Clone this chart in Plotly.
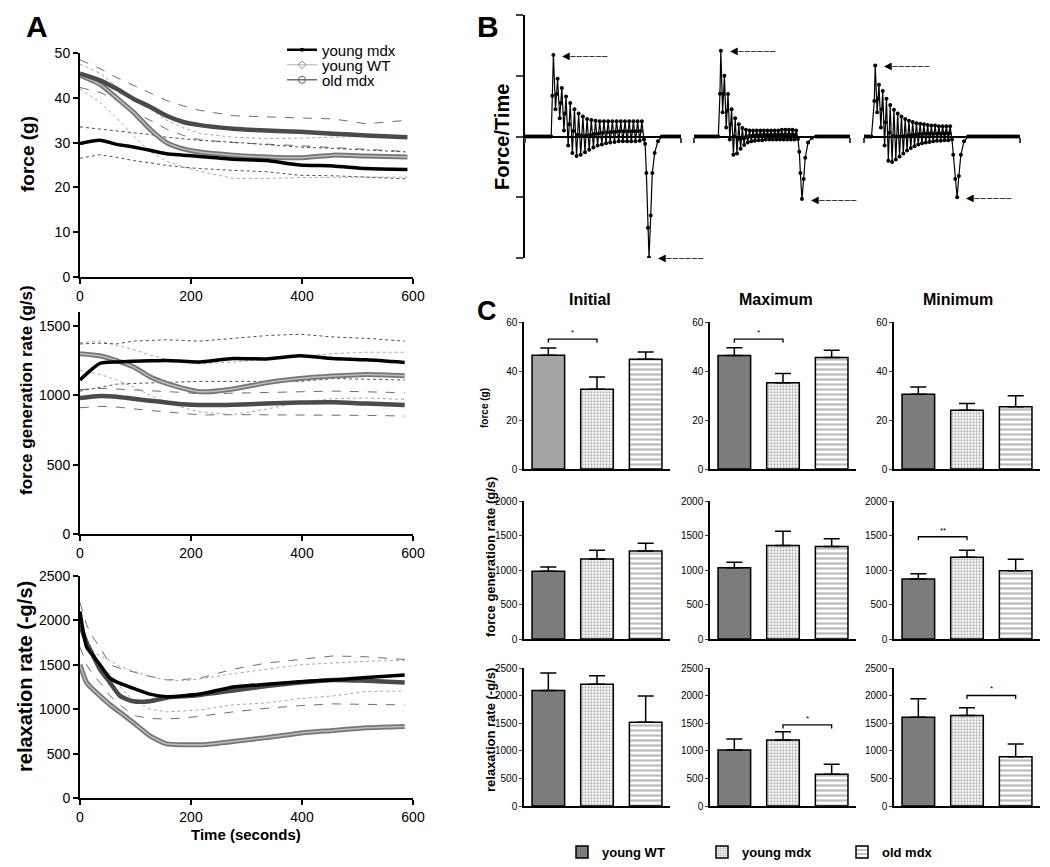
import numpy as np
import plotly.graph_objects as go

W, H = 1050, 867          # reference picture size
OX, OY = 8, 8             # page body margin of the browser
FW, FH = W - OX, H - OY   # figure size so that the picture fills the window
FONT = "Liberation Sans, Arial, sans-serif"

# ---------------- Panel A data (time courses) ----------------
groups = ["young mdx", "young WT", "old mdx"]

tA1 = [0, 36, 66, 96, 126, 156, 186, 216, 276, 336, 396, 456, 516, 590]
force_wt = [45.4, 43.9, 42.0, 39.8, 38.0, 36.0, 34.6, 33.9, 33.1, 32.7, 32.4, 32.0, 31.6, 31.2]
force_old = [45.0, 43.0, 40.0, 36.8, 33.0, 30.0, 28.6, 27.9, 27.2, 26.8, 26.6, 27.2, 27.0, 26.8]
force_ymdx = [29.8, 30.5, 29.6, 29.0, 28.3, 27.5, 27.2, 26.9, 26.3, 26.0, 25.0, 24.8, 24.2, 24.0]
force_wt_hi = [48.5, 46.5, 44.5, 42.8, 41.0, 39.4, 38.2, 37.2, 36.0, 35.7, 35.5, 35.3, 34.2, 35.0]
force_wt_lo = [42.3, 41.2, 39.5, 36.8, 35.0, 33.0, 31.6, 30.6, 30.0, 29.7, 29.3, 28.9, 28.5, 28.0]
force_old_hi = [47.5, 45.5, 42.5, 40.0, 37.5, 35.0, 33.3, 32.0, 31.2, 30.9, 31.0, 31.2, 31.5, 31.6]
force_old_lo = [42.0, 39.0, 35.5, 31.5, 28.0, 25.8, 24.6, 23.6, 22.0, 22.0, 22.2, 22.3, 22.3, 22.3]
force_ymdx_hi = [33.5, 33.0, 32.7, 32.2, 31.8, 31.2, 30.8, 30.5, 30.1, 29.6, 29.0, 28.7, 28.3, 27.9]
force_ymdx_lo = [26.5, 27.3, 26.7, 26.0, 25.5, 24.9, 24.5, 24.2, 23.8, 23.5, 22.7, 22.6, 22.3, 21.9]

tA2 = [0, 36, 66, 96, 126, 156, 186, 216, 276, 336, 396, 456, 516, 585]
fgr_ymdx = [1110, 1229, 1240, 1245, 1248, 1250, 1245, 1240, 1265, 1262, 1284, 1265, 1255, 1236]
fgr_old = [1300, 1285, 1250, 1205, 1133, 1085, 1050, 1025, 1045, 1090, 1120, 1138, 1150, 1140]
fgr_wt = [980, 995, 990, 975, 961, 948, 935, 930, 932, 940, 948, 950, 940, 930]
fgr_ymdx_hi = [1370, 1375, 1370, 1390, 1395, 1400, 1395, 1390, 1410, 1430, 1440, 1420, 1410, 1390]
fgr_ymdx_lo = [1030, 1060, 1080, 1085, 1090, 1090, 1095, 1100, 1100, 1100, 1100, 1120, 1115, 1110]
fgr_old_hi = [1380, 1390, 1360, 1330, 1290, 1260, 1240, 1225, 1240, 1260, 1285, 1300, 1310, 1310]
fgr_old_lo = [1180, 1150, 1110, 1060, 1000, 950, 910, 880, 860, 900, 950, 975, 980, 970]
fgr_wt_hi = [1040, 1050, 1045, 1040, 1035, 1030, 1020, 1010, 1015, 1020, 1030, 1030, 1025, 1018]
fgr_wt_lo = [910, 920, 915, 900, 890, 880, 870, 858, 860, 860, 860, 860, 855, 850]

tA3 = [0, 12, 24, 36, 54, 72, 96, 126, 156, 186, 216, 246, 276, 336, 396, 456, 516, 585]
rel_ymdx = [2100, 1700, 1600, 1500, 1350, 1290, 1235, 1170, 1140, 1150, 1170, 1210, 1250, 1280, 1310, 1330, 1358, 1385]
rel_wt = [1950, 1750, 1600, 1450, 1300, 1150, 1089, 1090, 1130, 1145, 1160, 1185, 1210, 1260, 1300, 1330, 1320, 1302]
rel_old = [1500, 1300, 1220, 1150, 1050, 965, 850, 700, 610, 600, 600, 615, 636, 680, 730, 760, 790, 805]
rel_wt_hi = [2200, 1950, 1800, 1700, 1500, 1460, 1420, 1370, 1330, 1335, 1350, 1400, 1450, 1520, 1560, 1600, 1590, 1560]
rel_wt_lo = [1700, 1500, 1380, 1300, 1150, 1050, 930, 895, 890, 900, 920, 945, 970, 1010, 1040, 1060, 1055, 1048]
rel_ymdx_hi = [2050, 1800, 1650, 1600, 1550, 1480, 1430, 1370, 1330, 1320, 1340, 1370, 1400, 1450, 1500, 1520, 1540, 1550]
rel_ymdx_lo = [1900, 1700, 1550, 1450, 1400, 1250, 1100, 1000, 970, 980, 990, 1020, 1050, 1070, 1120, 1150, 1200, 1205]

# ---------------- Panel B data (force derivative traces) ----------------
B_onset = [182, 172, 72]          # ms, first spike
B_period = [27, 23, 24]           # ms between stimuli
B_peaks = [
    [1.34, 0.95, 0.80, 0.66, 0.55, 0.45, 0.38, 0.33, 0.29, 0.27, 0.26, 0.25, 0.25, 0.25, 0.25, 0.25, 0.25, 0.25, 0.25, 0.25, 0.25, 0.25],
    [1.41, 1.00, 0.70, 0.45, 0.30, 0.20, 0.14, 0.11, 0.10, 0.10, 0.10, 0.10, 0.10, 0.10, 0.10, 0.10, 0.10, 0.11, 0.11, 0.11, 0.11, 0.10],
    [1.17, 0.85, 0.75, 0.62, 0.52, 0.44, 0.38, 0.33, 0.29, 0.26, 0.24, 0.22, 0.21, 0.20, 0.19, 0.18, 0.18, 0.17, 0.17, 0.17, 0.17],
]
B_troughs = [
    [0.45, 0.30, 0.10, -0.15, -0.27, -0.32, -0.30, -0.26, -0.22, -0.18, -0.15, -0.13, -0.11, -0.10, -0.09, -0.08, -0.08, -0.08, -0.08, -0.08, -0.07, -0.05],
    [0.40, 0.15, -0.05, -0.30, -0.28, -0.20, -0.14, -0.10, -0.08, -0.07, -0.06, -0.06, -0.05, -0.05, -0.05, -0.05, -0.05, -0.05, -0.05, -0.05, -0.05, -0.04],
    [0.40, 0.15, -0.15, -0.40, -0.42, -0.38, -0.33, -0.28, -0.23, -0.19, -0.16, -0.13, -0.11, -0.10, -0.09, -0.08, -0.07, -0.07, -0.06, -0.06, -0.05],
]
B_relax_t = [
    [770, 778, 788, 795, 806, 816, 831, 852, 877],
    [675, 682, 692, 703, 713, 731, 756, 782],
    [572, 585, 597, 608, 621, 641, 667],
]
B_relax_v = [
    [-0.12, -0.60, -1.50, -1.99, -1.30, -0.60, -0.27, -0.08, 0.0],
    [-0.25, -0.60, -1.03, -0.70, -0.35, -0.10, -0.02, 0.0],
    [-0.30, -0.70, -1.00, -0.65, -0.30, -0.08, 0.0],
]

# ---------------- Panel C data (bar charts) ----------------
bar_groups = ["young WT", "young mdx", "old mdx"]
col_titles = ["Initial", "Maximum", "Minimum"]
force_mean = [[46.4, 32.6, 44.8], [46.3, 35.2, 45.5], [30.5, 24.0, 25.4]]
force_sem = [[3.0, 5.0, 3.0], [3.2, 3.8, 3.0], [3.0, 2.7, 4.5]]
fgr_mean = [[981, 1159, 1275], [1034, 1356, 1341], [871, 1186, 988]]
fgr_sem = [[64, 126, 111], [78, 205, 113], [73, 102, 169]]
rel_mean = [[2091, 2207, 1518], [1013, 1195, 576], [1608, 1638, 892]]
rel_sem = [[317, 153, 476], [201, 152, 182], [334, 140, 231]]
# significance brackets: (row, col, bar_i, bar_j, level, label)
sig = [(0, 0, 0, 1, 53, "*"), (0, 1, 0, 1, 53, "*"), (1, 2, 0, 1, 1482, "**"),
       (2, 1, 1, 2, 1468, "*"), (2, 2, 1, 2, 2002, "*")]

# ---------------- layout helpers (pixel positions of the reference -> paper) ----------------
def px(x):
    return (x - OX) / FW

def py(y):
    return 1 - (y - OY) / FH

def xd(l, r):
    return [px(l), px(r)]

def yd(t, b):
    return [py(b), py(t)]

layout_axes = {}

def add_axes(n, xdom, ydom, xopts, yopts):
    s = "" if n == 1 else str(n)
    xo = dict(domain=xdom, anchor="y" + s, automargin=False)
    xo.update(xopts)
    yo = dict(domain=ydom, anchor="x" + s, automargin=False)
    yo.update(yopts)
    layout_axes["xaxis" + s] = xo
    layout_axes["yaxis" + s] = yo
    return ("x" + s, "y" + s)

fig = go.Figure()

# ---------------- Panel A ----------------
a_axis = dict(showline=True, linecolor="black", linewidth=2, ticks="outside", ticklen=5,
              tickwidth=2, tickcolor="black", showgrid=False, zeroline=False,
              tickfont=dict(family=FONT, size=14, color="black"))
ax_x = dict(a_axis, range=[0, 600], tickvals=[0, 200, 400, 600])
A_specs = [
    (1, (53, 277), [0, 50], [0, 10, 20, 30, 40, 50]),
    (2, (312, 534), [0, 1600], [0, 500, 1000, 1500]),
    (3, (576, 798), [0, 2500], [0, 500, 1000, 1500, 2000, 2500]),
]
A_refs = []
for n, (top, bot), yr, tv in A_specs:
    A_refs.append(add_axes(n, xd(80, 413), yd(top, bot), ax_x, dict(a_axis, range=yr, tickvals=tv)))

def sem_line(ref, t, y, color, dash, width=1):
    fig.add_trace(go.Scatter(x=t, y=y, xaxis=ref[0], yaxis=ref[1], mode="lines",
                             line=dict(color=color, dash=dash, width=width), showlegend=False,
                             hoverinfo="skip"))

def mean_line(ref, t, y, color, width):
    fig.add_trace(go.Scatter(x=t, y=y, xaxis=ref[0], yaxis=ref[1], mode="lines",
                             line=dict(color=color, width=width, shape="spline", smoothing=0.6),
                             showlegend=False))

panelA = [
    (tA1, force_wt, force_old, force_ymdx, force_wt_hi, force_wt_lo, force_old_hi, force_old_lo, force_ymdx_hi, force_ymdx_lo),
    (tA2, fgr_wt, fgr_old, fgr_ymdx, fgr_wt_hi, fgr_wt_lo, fgr_old_hi, fgr_old_lo, fgr_ymdx_hi, fgr_ymdx_lo),
    (tA3, rel_wt, rel_old, rel_ymdx, rel_wt_hi, rel_wt_lo, rel_ymdx_hi, rel_ymdx_lo, None, None),
]
for ref, d in zip(A_refs, panelA):
    t = d[0]
    sem_line(ref, t, d[4], "#6e6e6e", "dash")
    sem_line(ref, t, d[5], "#6e6e6e", "dash")
    sem_line(ref, t, d[6], "#a8a8a8", "dot")
    sem_line(ref, t, d[7], "#a8a8a8", "dot")
    if d[8] is not None:
        sem_line(ref, t, d[8], "#505050", "dot")
        sem_line(ref, t, d[9], "#505050", "dot")
    mean_line(ref, t, d[2], "#767676", 5)
    mean_line(ref, t, d[2], "#bdbdbd", 1.5)
    mean_line(ref, t, d[1], "#4a4a4a", 4.5)
    mean_line(ref, t, d[3], "black", 3.5)

# legend-only entries for panel A (one small legend per row, to get tight line spacing)
leg_styles = [
    dict(line=dict(color="black", width=2.5), marker=dict(symbol="circle", size=4, color="black")),
    dict(line=dict(color="#b0b0b0", width=1.2), marker=dict(symbol="diamond-open", size=6, color="#8a8a8a")),
    dict(line=dict(color="#707070", width=1.5), marker=dict(symbol="circle-open", size=7, color="#606060")),
]
leg_layouts = {}
for k, (g, st) in enumerate(zip(groups, leg_styles)):
    lname = "legend" + str(k + 2)
    fig.add_trace(go.Scatter(x=[None], y=[None], xaxis="x", yaxis="y", mode="lines+markers",
                             name=g, legend=lname, **st))
    leg_layouts[lname] = dict(x=px(282), y=py(50 + 15 * k), xanchor="left", yanchor="middle",
                              font=dict(family=FONT, size=15, color="black"),
                              bgcolor="rgba(0,0,0,0)", itemwidth=30)

# ---------------- Panel B ----------------
B_xdoms = [(525, 681), (694, 850), (864, 1020)]
zero_pos = py(137)
B_refs = []
for k, (l, r) in enumerate(B_xdoms):
    n = 4 + k
    s = str(n)
    xo = dict(domain=xd(l, r), anchor="free", position=zero_pos, range=[0, 1000],
              showline=True, linecolor="black", linewidth=2, ticks="outside", ticklen=5,
              tickwidth=2, tickvals=[0, 1000], showticklabels=False, showgrid=False,
              zeroline=False, automargin=False)
    yo = dict(domain=yd(15, 258), anchor="x" + s, range=[-2, 2], showgrid=False, zeroline=False,
              showticklabels=False, automargin=False)
    if k == 0:
        yo.update(showline=True, linecolor="black", linewidth=2, ticks="outside", ticklen=7,
                  tickwidth=2, tickvals=[-2, -1, 0, 1, 2])
    else:
        yo.update(showline=False, ticks="")
    layout_axes["xaxis" + s] = xo
    layout_axes["yaxis" + s] = yo
    B_refs.append(("x" + s, "y" + s))

annotations = []
for k in range(3):
    onset, per = B_onset[k], B_period[k]
    t, v = [], []
    for tt in np.arange(0, onset - per * 0.5, 12):
        t.append(float(tt)); v.append(0.0)
    for i, (p, q) in enumerate(zip(B_peaks[k], B_troughs[k])):
        tp = onset + i * per
        t += [tp - per * 0.25, tp, tp + per * 0.5]
        v += [(p + (B_troughs[k][i - 1] if i > 0 else 0.0)) / 2, p, q]
    t += B_relax_t[k]; v += B_relax_v[k]
    for tt in np.arange(B_relax_t[k][-1] + 12, 1001, 12):
        t.append(float(tt)); v.append(0.0)
    fig.add_trace(go.Scatter(x=t, y=v, xaxis=B_refs[k][0], yaxis=B_refs[k][1], mode="lines+markers",
                             line=dict(color="black", width=1.2), marker=dict(size=4, color="black"),
                             showlegend=False))
    # arrows to the peak and the trough
    i_min = int(np.argmin(B_relax_v[k]))
    for (xa, ya) in [(onset, B_peaks[k][0]), (B_relax_t[k][i_min], B_relax_v[k][i_min])]:
        annotations.append(dict(x=xa, y=ya, xref=B_refs[k][0], yref=B_refs[k][1], text="◀‒‒‒‒‒‒",
                                showarrow=False, xanchor="left", yanchor="middle", xshift=7,
                                font=dict(family="DejaVu Sans", size=10, color="black")))

# ---------------- Panel C ----------------
C_xdoms = [(524, 670), (710, 856), (894, 1040)]
C_ydoms = [(322, 469), (501, 639), (668, 806)]
C_ranges = [([0, 60], 20), ([0, 2000], 500), ([0, 2500], 500)]
C_data = [(force_mean, force_sem), (fgr_mean, fgr_sem), (rel_mean, rel_sem)]
bar_style = [
    dict(color="#7c7c7c", pattern=dict(shape="")),
    dict(color="white", pattern=dict(shape=".", fgcolor="#6a6a6a", bgcolor="white", size=3, solidity=0.45)),
    dict(color="white", pattern=dict(shape="-", fgcolor="#7a7a7a", bgcolor="white", size=5, solidity=0.45)),
]
C_refs = {}
for r in range(3):
    for c in range(3):
        n = 7 + r * 3 + c
        yr, dt = C_ranges[r][0], C_ranges[r][1]
        ref = add_axes(n, xd(*C_xdoms[c]), yd(*C_ydoms[r]),
                       dict(range=[-0.5, 2.5], showline=True, linecolor="black", linewidth=1.5,
                            ticks="", showticklabels=False, showgrid=False, zeroline=False),
                       dict(range=yr, dtick=dt, tick0=0, showline=True, linecolor="black",
                            linewidth=1.5, ticks="outside", ticklen=3, tickwidth=1,
                            showgrid=False, zeroline=False,
                            tickfont=dict(family=FONT, size=10, color="black")))
        C_refs[(r, c)] = ref
        means, sems = C_data[r][0][c], C_data[r][1][c]
        for i in range(3):
            st = dict(bar_style[i])
            if i == 0 and r == 0 and c == 0:
                st = dict(color="#a5a5a5", pattern=dict(shape=""))
            fig.add_trace(go.Bar(x=[i], y=[means[i]], xaxis=ref[0], yaxis=ref[1], width=0.67,
                                 name=f"<b>{bar_groups[i]}</b>", legendgroup=bar_groups[i],
                                 showlegend=(r == 0 and c == 1), legend="legend",
                                 marker=dict(color=st["color"], pattern=st["pattern"],
                                             line=dict(color="black", width=1.5)),
                                 error_y=dict(type="data", array=[sems[i]], arrayminus=[0],
                                              symmetric=False, color="black", thickness=1.5,
                                              width=8)))

for (r, c, i, j, lvl, lab) in sig:
    ref = C_refs[(r, c)]
    d = C_ranges[r][0][1] * 0.025
    fig.add_trace(go.Scatter(x=[i, i, j, j], y=[lvl - d, lvl, lvl, lvl - d], xaxis=ref[0],
                             yaxis=ref[1], mode="lines", line=dict(color="black", width=1.3),
                             showlegend=False, hoverinfo="skip"))
    annotations.append(dict(x=(i + j) / 2, y=lvl, xref=ref[0], yref=ref[1], text=lab,
                            showarrow=False, yanchor="bottom", yshift=0,
                            font=dict(family=FONT, size=8, color="black")))

# ---------------- text annotations ----------------
def ptxt(x, y, text, size, bold=True, angle=0, family=FONT):
    annotations.append(dict(x=px(x), y=py(y), xref="paper", yref="paper",
                            text=f"<b>{text}</b>" if bold else text, showarrow=False,
                            textangle=angle, xanchor="center", yanchor="middle",
                            font=dict(family=family, size=size, color="black")))

ptxt(37, 27, "A", 30)
ptxt(488, 27, "B", 30)
ptxt(487, 311, "C", 27)
ptxt(27, 154, "force (g)", 19, angle=-90)
ptxt(27, 390, "force generation rate (g/s)", 17, angle=-90)
ptxt(25, 677, "relaxation rate (-g/s)", 20, angle=-90)
ptxt(246, 834, "Time (seconds)", 15)
ptxt(502, 137, "Force/Time", 20, angle=-90)
for c, ttl in enumerate(col_titles):
    ptxt([590, 776, 958][c], 299, ttl, 16)
ptxt(484, 408, "force (g)", 10, angle=-90)
ptxt(490, 557, "force generation rate (g/s)", 13, angle=-90)
ptxt(490, 730, "relaxation rate (-g/s)", 13, angle=-90)

fig.update_layout(
    width=FW, height=FH, margin=dict(l=0, r=0, t=0, b=0),
    paper_bgcolor="white", plot_bgcolor="white", barmode="overlay",
    annotations=annotations,
    legend=dict(orientation="h", x=px(562), y=py(852), xanchor="left", yanchor="middle",
                font=dict(family=FONT, size=13, color="black"), bgcolor="rgba(0,0,0,0)",
                itemwidth=30, entrywidth=95, traceorder="normal"),
    **leg_layouts,
    **layout_axes,
)

fig.write_html("out.html")
